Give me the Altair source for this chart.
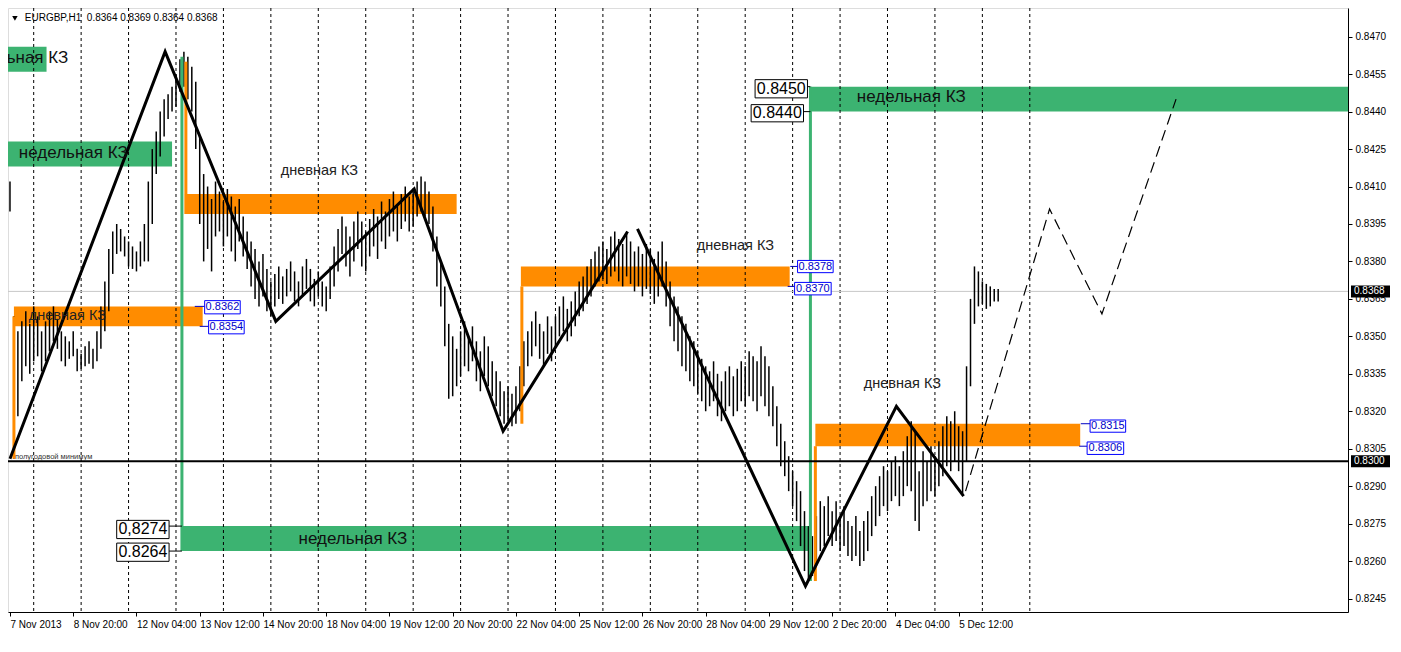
import json
import altair as alt
import pandas as pd

# ---------------- data ----------------
# EURGBP H1 bars (every second bar), high / low
bar_high = [
    0.8412, 0.8358, 0.8352, 0.8356, 0.8360, 0.8355, 0.8362, 0.8358, 0.8352, 0.8356,
    0.8360, 0.8362, 0.8357, 0.8352, 0.8350, 0.8348, 0.8352, 0.8345, 0.8343, 0.8346,
    0.8348, 0.8345, 0.8352, 0.8362, 0.8372, 0.8385, 0.8392, 0.8395, 0.8393, 0.8390,
    0.8388, 0.8386, 0.8384, 0.8388, 0.8395, 0.8412, 0.8425, 0.8432, 0.8440, 0.8445,
    0.8447, 0.8450, 0.8455, 0.8461, 0.8464, 0.8462, 0.8458, 0.8452, 0.8430, 0.8415,
    0.8410, 0.8405, 0.8412, 0.8408, 0.8404, 0.8409, 0.8406, 0.8402, 0.8405, 0.8398,
    0.8392, 0.8388, 0.8385, 0.8380, 0.8383, 0.8377, 0.8372, 0.8375, 0.8378, 0.8374,
    0.8377, 0.8380, 0.8376, 0.8372, 0.8378, 0.8381, 0.8377, 0.8373, 0.8376, 0.8372,
    0.8370, 0.8378, 0.8386, 0.8393, 0.8398, 0.8394, 0.8390, 0.8396, 0.8400, 0.8396,
    0.8392, 0.8397, 0.8401, 0.8398, 0.8404, 0.8400, 0.8405, 0.8408, 0.8403, 0.8407,
    0.8410, 0.8406, 0.8408, 0.8412, 0.8414, 0.8412, 0.8408, 0.8402, 0.8390, 0.8380,
    0.8370, 0.8355, 0.8350, 0.8345, 0.8352, 0.8356, 0.8350, 0.8354, 0.8348, 0.8344,
    0.8350, 0.8346, 0.8340, 0.8336, 0.8332, 0.8328, 0.8330, 0.8327, 0.8330, 0.8338,
    0.8348, 0.8352, 0.8356, 0.8360, 0.8355, 0.8352, 0.8358, 0.8354, 0.8358, 0.8362,
    0.8366, 0.8361, 0.8364, 0.8368, 0.8372, 0.8374, 0.8378, 0.8381, 0.8384, 0.8386,
    0.8388, 0.8385, 0.8390, 0.8392, 0.8389, 0.8387, 0.8391, 0.8388, 0.8384, 0.8386,
    0.8383, 0.8387, 0.8385, 0.8381, 0.8384, 0.8388, 0.8380, 0.8372, 0.8366, 0.8362,
    0.8358, 0.8355, 0.8350, 0.8348, 0.8344, 0.8341, 0.8338, 0.8336, 0.8340, 0.8335,
    0.8332, 0.8336, 0.8338, 0.8334, 0.8337, 0.8340, 0.8338, 0.8344, 0.8342, 0.8340,
    0.8346, 0.8342, 0.8338, 0.8330, 0.8322, 0.8315, 0.8308, 0.8302, 0.8296, 0.8292,
    0.8288, 0.8280, 0.8274, 0.8270, 0.8278, 0.8284, 0.8282, 0.8286, 0.8280, 0.8284,
    0.8278, 0.8282, 0.8276, 0.8274, 0.8278, 0.8272, 0.8276, 0.8280, 0.8286, 0.8290,
    0.8294, 0.8298, 0.8296, 0.8300, 0.8302, 0.8298, 0.8304, 0.8310, 0.8316, 0.8312,
    0.8296, 0.8304, 0.8300, 0.8306, 0.8302, 0.8308, 0.8314, 0.8318, 0.8316, 0.8320,
    0.8314, 0.8312, 0.8338, 0.8365, 0.8378, 0.8376, 0.8372, 0.8371, 0.8370, 0.8369,
    0.8369,
]
bar_low = [
    0.8400, 0.8301, 0.8318, 0.8332, 0.8338, 0.8335, 0.8340, 0.8342, 0.8336, 0.8340,
    0.8344, 0.8348, 0.8345, 0.8340, 0.8338, 0.8341, 0.8342, 0.8336, 0.8337, 0.8338,
    0.8339, 0.8337, 0.8340, 0.8345, 0.8352, 0.8360, 0.8375, 0.8383, 0.8384, 0.8382,
    0.8378, 0.8377, 0.8376, 0.8378, 0.8380, 0.8380, 0.8395, 0.8415, 0.8422, 0.8430,
    0.8437, 0.8440, 0.8442, 0.8448, 0.8450, 0.8445, 0.8440, 0.8425, 0.8395, 0.8380,
    0.8385, 0.8376, 0.8390, 0.8392, 0.8386, 0.8390, 0.8384, 0.8380, 0.8388, 0.8382,
    0.8377, 0.8370, 0.8365, 0.8362, 0.8366, 0.8360, 0.8358, 0.8362, 0.8365, 0.8363,
    0.8366, 0.8368, 0.8364, 0.8362, 0.8366, 0.8369, 0.8364, 0.8362, 0.8366, 0.8362,
    0.8360, 0.8365, 0.8370, 0.8376, 0.8383, 0.8378, 0.8374, 0.8380, 0.8385, 0.8378,
    0.8376, 0.8382, 0.8386, 0.8381, 0.8388, 0.8385, 0.8390, 0.8392, 0.8388, 0.8393,
    0.8396, 0.8392, 0.8394, 0.8398, 0.8400, 0.8398, 0.8395, 0.8384, 0.8370, 0.8362,
    0.8346, 0.8325, 0.8326, 0.8330, 0.8334, 0.8338, 0.8336, 0.8340, 0.8332, 0.8328,
    0.8334, 0.8330, 0.8326, 0.8322, 0.8318, 0.8315, 0.8316, 0.8314, 0.8315, 0.8320,
    0.8330, 0.8338, 0.8342, 0.8346, 0.8341, 0.8338, 0.8343, 0.8340, 0.8346, 0.8350,
    0.8352, 0.8348, 0.8350, 0.8354, 0.8358, 0.8360, 0.8363, 0.8366, 0.8370, 0.8372,
    0.8373, 0.8371, 0.8374, 0.8376, 0.8372, 0.8370, 0.8374, 0.8371, 0.8368, 0.8370,
    0.8366, 0.8369, 0.8367, 0.8363, 0.8366, 0.8370, 0.8362, 0.8354, 0.8348, 0.8344,
    0.8338, 0.8336, 0.8332, 0.8330, 0.8327, 0.8324, 0.8320, 0.8322, 0.8324, 0.8318,
    0.8316, 0.8320, 0.8322, 0.8318, 0.8320, 0.8324, 0.8322, 0.8326, 0.8324, 0.8320,
    0.8326, 0.8322, 0.8318, 0.8314, 0.8306, 0.8298, 0.8294, 0.8288, 0.8282, 0.8276,
    0.8266, 0.8256, 0.8252, 0.8254, 0.8258, 0.8264, 0.8266, 0.8270, 0.8266, 0.8268,
    0.8264, 0.8266, 0.8262, 0.8260, 0.8262, 0.8258, 0.8260, 0.8264, 0.8270, 0.8274,
    0.8278, 0.8282, 0.8280, 0.8284, 0.8286, 0.8282, 0.8286, 0.8290, 0.8288, 0.8276,
    0.8272, 0.8282, 0.8284, 0.8288, 0.8286, 0.8290, 0.8294, 0.8298, 0.8296, 0.8300,
    0.8296, 0.8287, 0.8300, 0.8330, 0.8355, 0.8362, 0.8363, 0.8361, 0.8362, 0.8364,
    0.8364,
]
bar_idx = list(range(0, 2 * len(bar_high), 2))

# zigzag (solid) and projected path (dashed)
zz_seg = ["a", "a", "a", "a", "a", "a", "b", "b", "b", "b"]
zz_x = [0, 78.5, 134.5, 204.5, 249.5, 312.5, 317.5, 402.5, 448.5, 482.5]
zz_p = [0.8301, 0.8464, 0.8356, 0.8409, 0.8312, 0.8392, 0.8393, 0.8250, 0.8322, 0.8286]
proj_x = [483.5, 526, 552.5, 590]
proj_p = [0.8288, 0.8401, 0.8359, 0.8445]

# zones (weekly = green, daily = orange)
zone_kind = ["weekly", "weekly", "weekly", "weekly", "daily", "daily", "daily", "daily"]
zone_x1 = [-5, -5, 87, 405, 2, 88.5, 258.5, 407.5]
zone_x2 = [18.5, 82, 405, 700, 97.5, 226, 394.5, 541.5]
zone_lo = [0.8456, 0.8418, 0.8264, 0.8440, 0.8354, 0.8399, 0.8370, 0.8306]
zone_hi = [0.8466, 0.8428, 0.8274, 0.8450, 0.8362, 0.8407, 0.8378, 0.8315]

# zone anchor verticals
vl_kind = ["daily", "weekly", "daily", "daily", "weekly", "daily"]
vl_x = [2, 87, 89, 259, 405, 407.5]
vl_p1 = [0.8301, 0.8462, 0.8460, 0.8315, 0.8252, 0.8252]
vl_p2 = [0.8358, 0.8264, 0.8399, 0.8370, 0.8450, 0.8306]

# zone captions
wk_text = ["недельная КЗ", "недельная КЗ", "недельная КЗ"]
wk_x = [4.5, 146, 428.5]
wk_p = [0.84233, 0.8269, 0.84459]
wk_cut_x = [29.5]
wk_cut_p = [0.84616]
dy_text = ["дневная КЗ", "дневная КЗ", "дневная КЗ", "дневная КЗ"]
dy_x = [9.5, 137, 347.5, 432]
dy_p = [0.83582, 0.84164, 0.83862, 0.83311]

# price tags
wtag_text = ["0.8450", "0.8440", "0,8274", "0.8264"]
wtag_x1 = [377, 375, 54, 54]
wtag_x2 = [403.5, 401.5, 80.5, 80.5]
wtag_lo = [0.84455, 0.84359, 0.82690, 0.82599]
wtag_hi = [0.84528, 0.84428, 0.82763, 0.82672]
wtag_c1 = [403.5, 401.5, 80.5, 80.5]
wtag_c2 = [405, 405, 87, 87]
wtag_cp = [0.8450, 0.8440, 0.8274, 0.8264]

btag_text = ["0.8362", "0.8354", "0.8378", "0.8370", "0.8315", "0.8306"]
btag_x1 = [98.5, 100.5, 398.5, 397, 546.5, 545]
btag_x2 = [116.5, 118.5, 416.5, 415.5, 564.5, 563.5]
btag_lo = [0.8359, 0.8351, 0.83755, 0.83666, 0.83116, 0.83027]
btag_hi = [0.83643, 0.83563, 0.83804, 0.83716, 0.83165, 0.83077]
btag_c1 = [93.5, 96, 394.8, 393.5, 541.8, 541]
btag_cp = [0.8362, 0.8354, 0.8378, 0.8370, 0.8315, 0.8306]

# axes
tick_idx = [0, 32, 64, 96, 128, 160, 192, 224, 256, 288, 320, 352, 384, 416, 448, 480]
tick_text = ["7 Nov 2013", "8 Nov 20:00", "12 Nov 04:00", "13 Nov 12:00", "14 Nov 20:00",
             "18 Nov 04:00", "19 Nov 12:00", "20 Nov 20:00", "22 Nov 04:00", "25 Nov 12:00",
             "26 Nov 20:00", "28 Nov 04:00", "29 Nov 12:00", "2 Dec 20:00", "4 Dec 04:00",
             "5 Dec 12:00"]
price_ticks = [0.8245, 0.8260, 0.8275, 0.8290, 0.8305, 0.8320, 0.8335, 0.8350,
               0.8365, 0.8380, 0.8395, 0.8410, 0.8425, 0.8440, 0.8455, 0.8470]
sep_idx = [12, 36, 60, 84, 108, 132, 156, 180, 204, 228, 252, 276, 300, 324, 348,
           372, 396, 420, 444, 468, 492, 516]
level_line = [0.8300]
bid_line = [0.8368]
badge_text = ["0.8368", "0.8300"]
badge_p = [0.8368, 0.8300]
header_text = ["EURGBP,H1\u00a0\u00a00.8364 0.8369 0.8364 0.8368"]

# ---------------- styling ----------------
GREEN = "#3CB371"
ORANGE = "#FF8C00"
FONT = "Liberation Sans"
W, H = 1340, 604

xs = alt.Scale(domain=[-1, 677], nice=False, zero=False)
ys = alt.Scale(domain=[0.82396, 0.84815], nice=False, zero=False)
label_expr = json.dumps(tick_text) + "[round(datum.value / 32)]"
xax = alt.Axis(values=tick_idx, labelExpr=label_expr, title=None, grid=False,
               tickSize=4, tickColor="black", domainColor="black",
               labelAlign="left", labelBaseline="top", labelPadding=3,
               labelFont=FONT, labelFontSize=10, labelColor="black",
               labelOverlap=False, labelFlush=False, labelBound=False)
yax = alt.Axis(orient="right", values=price_ticks, format=".4f", title=None,
               grid=False, tickSize=4, tickColor="black", domainColor="black",
               labelPadding=3, labelFont=FONT, labelFontSize=10, labelColor="black",
               labelOverlap=False, labelFlush=False, labelBound=False)


def X(f):
    return alt.X(f, type="quantitative", scale=xs, axis=xax)


def Y(f):
    return alt.Y(f, type="quantitative", scale=ys, axis=yax)


kind_color = alt.Color("kind:N", scale=alt.Scale(domain=["weekly", "daily"],
                                                 range=[GREEN, ORANGE]), legend=None)

zones = pd.DataFrame({"kind": zone_kind, "x1": zone_x1, "x2": zone_x2,
                      "lo": zone_lo, "hi": zone_hi})
vls = pd.DataFrame({"kind": vl_kind, "x": vl_x, "p1": vl_p1, "p2": vl_p2})
bars = pd.DataFrame({"i": bar_idx, "hi": bar_high, "lo": bar_low})
zz = pd.DataFrame({"seg": zz_seg, "x": zz_x, "p": zz_p, "o": list(range(len(zz_x)))})
proj = pd.DataFrame({"x": proj_x, "p": proj_p, "o": list(range(len(proj_x)))})
seps = pd.DataFrame({"x": sep_idx})

l_zones = alt.Chart(zones).mark_rect(clip=True).encode(
    x=X("x1"), x2="x2", y=Y("lo"), y2="hi", color=kind_color)
l_seps = alt.Chart(seps).mark_rule(color="black", strokeWidth=1, strokeDash=[3, 3]).encode(
    x=X("x"))
l_bid = alt.Chart(pd.DataFrame({"p": bid_line})).mark_rule(
    color="#c8c8c8", strokeWidth=1).encode(y=Y("p"))
l_bars = alt.Chart(bars).mark_rule(color="black", strokeWidth=1.5).encode(
    x=X("i"), y=Y("lo"), y2="hi")
l_vls = alt.Chart(vls).mark_rule(strokeWidth=3).encode(
    x=X("x"), y=Y("p1"), y2="p2", color=kind_color)
l_level = alt.Chart(pd.DataFrame({"p": level_line})).mark_rule(
    color="black", strokeWidth=2).encode(y=Y("p"))
l_zz = alt.Chart(zz).mark_line(color="black", strokeWidth=3).encode(
    x=X("x"), y=Y("p"), detail="seg:N", order="o:Q")
l_proj = alt.Chart(proj).mark_line(color="black", strokeWidth=1.2,
                                   strokeDash=[11, 6]).encode(
    x=X("x"), y=Y("p"), order="o:Q")

l_wk = alt.Chart(pd.DataFrame({"t": wk_text, "x": wk_x, "p": wk_p})).mark_text(
    align="left", baseline="middle", font=FONT, fontSize=17, color="#111", clip=True
).encode(x=X("x"), y=Y("p"), text="t:N")
l_wk_cut = alt.Chart(pd.DataFrame({"t": ["недельная КЗ"], "x": wk_cut_x, "p": wk_cut_p})).mark_text(
    align="right", baseline="middle", font=FONT, fontSize=17, color="#111", clip=True
).encode(x=X("x"), y=Y("p"), text="t:N")
l_dy = alt.Chart(pd.DataFrame({"t": dy_text, "x": dy_x, "p": dy_p})).mark_text(
    align="left", baseline="middle", font=FONT, fontSize=14.5, color="#222", clip=True
).encode(x=X("x"), y=Y("p"), text="t:N")
l_min = alt.Chart(pd.DataFrame({"t": ["полугодовой минимум"], "x": [2.5], "p": [0.83018]})).mark_text(
    align="left", baseline="middle", font=FONT, fontSize=7.5, color="#333", clip=True
).encode(x=X("x"), y=Y("p"), text="t:N")

wt = pd.DataFrame({"t": wtag_text, "x1": wtag_x1, "x2": wtag_x2, "lo": wtag_lo,
                   "hi": wtag_hi, "c1": wtag_c1, "c2": wtag_c2, "cp": wtag_cp})
wt["xc"] = (wt["x1"] + wt["x2"]) / 2
wt["pc"] = (wt["lo"] + wt["hi"]) / 2
l_wt_con = alt.Chart(wt).mark_rule(color="black", strokeWidth=1).encode(
    x=X("c1"), x2="c2", y=Y("cp"))
l_wt_box = alt.Chart(wt).mark_rect(fill="white", stroke="black", strokeWidth=1).encode(
    x=X("x1"), x2="x2", y=Y("lo"), y2="hi")
l_wt_txt = alt.Chart(wt).mark_text(font=FONT, fontSize=16, color="black",
                                   baseline="middle").encode(
    x=X("xc"), y=Y("pc"), text="t:N")

bt = pd.DataFrame({"t": btag_text, "x1": btag_x1, "x2": btag_x2, "lo": btag_lo,
                   "hi": btag_hi, "c1": btag_c1, "cp": btag_cp})
bt["xc"] = (bt["x1"] + bt["x2"]) / 2
bt["pc"] = (bt["lo"] + bt["hi"]) / 2
l_bt_con = alt.Chart(bt).mark_rule(color="#0000C0", strokeWidth=1).encode(
    x=X("c1"), x2="x1", y=Y("cp"))
l_bt_box = alt.Chart(bt).mark_rect(fill="white", stroke="#0000FF", strokeWidth=1).encode(
    x=X("x1"), x2="x2", y=Y("lo"), y2="hi")
l_bt_txt = alt.Chart(bt).mark_text(font=FONT, fontSize=11, color="#0000C8",
                                   baseline="middle").encode(
    x=X("xc"), y=Y("pc"), text="t:N")

hdr = pd.DataFrame({"t": header_text, "x": [7.5], "p": [0.84773], "tx": [2.5]})
l_hdr_tri = alt.Chart(hdr).mark_point(shape="triangle-down", filled=True, color="black",
                                      size=30, opacity=1).encode(x=X("tx"), y=Y("p"))
l_hdr = alt.Chart(hdr).mark_text(align="left", baseline="middle", font=FONT,
                                 fontSize=10, color="black").encode(
    x=X("x"), y=Y("p"), text="t:N")

bd = pd.DataFrame({"t": badge_text, "p": badge_p})
bd["lo"] = bd["p"] - 0.00024
bd["hi"] = bd["p"] + 0.00024
l_bd_box = alt.Chart(bd).mark_rect(color="black", clip=False).encode(
    x=alt.value(W + 3), x2=alt.value(W + 42), y=Y("lo"), y2="hi")
l_bd_txt = alt.Chart(bd).mark_text(align="left", baseline="middle", font=FONT,
                                   fontSize=10, color="white", clip=False).encode(
    x=alt.value(W + 6), y=Y("p"), text="t:N")

chart = alt.layer(
    l_zones, l_seps, l_bid, l_bars, l_vls, l_level, l_zz, l_proj,
    l_wk, l_wk_cut, l_dy, l_min,
    l_wt_con, l_wt_box, l_wt_txt, l_bt_con, l_bt_box, l_bt_txt,
    l_hdr_tri, l_hdr, l_bd_box, l_bd_txt,
).properties(
    width=W, height=H,
    padding={"left": 0, "top": 0, "right": 42, "bottom": 24},
    autosize=alt.AutoSizeParams(type="none"),
).configure_view(stroke="black", strokeWidth=1).configure(background="white")

chart.save("out.html", embed_options={"renderer": "svg", "actions": False})
